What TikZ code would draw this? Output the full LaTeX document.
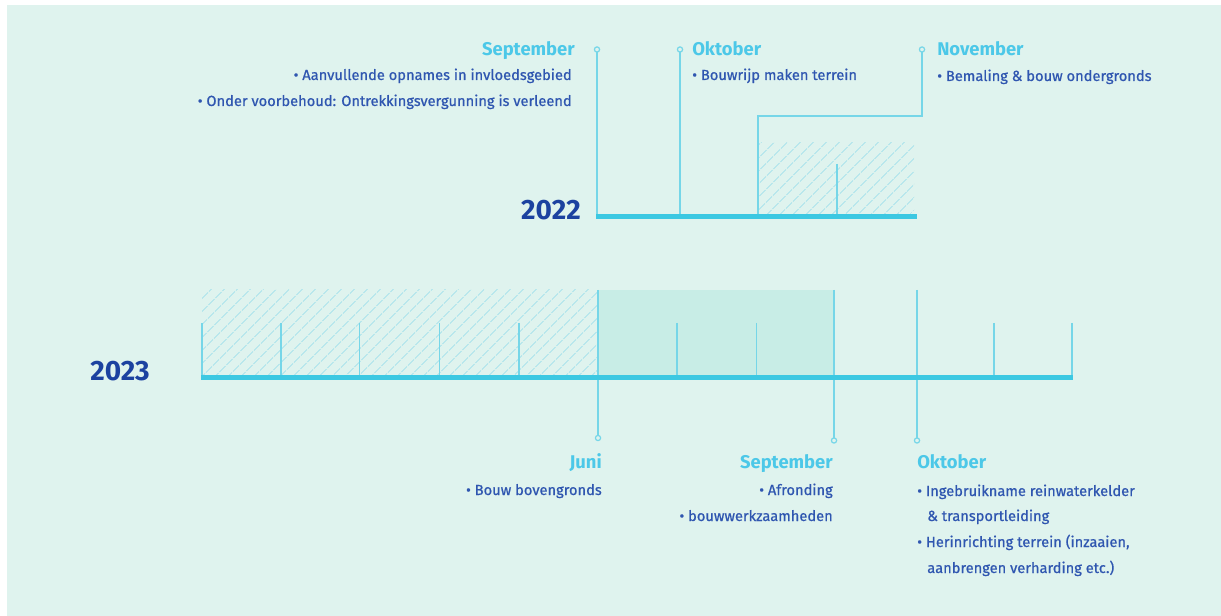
\documentclass[tikz,border=0pt]{standalone}
\usepackage{fontspec}
\setmainfont{Fira Sans}
\newfontfamily\itemfont[FakeBold=0.7]{Fira Sans}
\usepackage{tikz}
\usetikzlibrary{patterns.meta}
\definecolor{bgmint}{RGB}{223,243,238}
\definecolor{axiscyan}{RGB}{60,200,226}
\definecolor{tickcyan}{RGB}{118,214,232}
\definecolor{headcyan}{RGB}{76,200,232}
\definecolor{textblue}{RGB}{47,86,176}
\definecolor{yearblue}{RGB}{28,66,160}
\definecolor{shademint}{RGB}{200,237,230}
\definecolor{hatchcyan}{RGB}{166,226,236}

\begin{document}
\begin{tikzpicture}[x=0.75pt,y=0.75pt,yscale=-1,xscale=1,
    tick/.style={draw=tickcyan,line width=0.9pt},
    axis/.style={draw=axiscyan,line width=3.75pt},
    pin/.style={draw=tickcyan,line width=0.9pt,fill=bgmint},
    head/.style={inner sep=0pt,text=headcyan,font=\fontsize{13.8}{16}\selectfont\bfseries},
    item/.style={inner sep=0pt,text=textblue,font=\fontsize{11}{13}\selectfont\itemfont},
    year/.style={inner sep=0pt,text=yearblue,font=\fontsize{21}{25}\selectfont\bfseries},
    hatched/.style={pattern={Lines[angle=45,distance=6.9pt,line width=0.7pt]},pattern color=hatchcyan}]
        \useasboundingbox (0,0) rectangle (1221,616);
        %Shape: Rectangle [background]
        \fill[white] (0,0) rectangle (1221,616);
        \fill[bgmint] (7,5) rectangle (1221,616);

        %%% 2022
        %Shape: Rectangle [hatch]
        \path[hatched] (758,143) rectangle (914,217);
        %Straight Lines [september]
        \draw[tick] (597,52) -- (597,217) ;
        %Straight Lines [oktober]
        \draw[tick] (680,52) -- (680,217) ;
        %Straight Lines [november]
        \draw[tick] (922,52) -- (922,116) -- (758,116) -- (758,217) ;
        %Straight Lines [december]
        \draw[tick] (837,164) -- (837,217) ;
        %Straight Lines [axis]
        \draw[axis] (596,217) -- (917,217) ;
        %Shape: Circle
        \draw[pin] (597,49.5) circle (2.6) ;
        \draw[pin] (680,49.5) circle (2.6) ;
        \draw[pin] (922,49.5) circle (2.6) ;
        % Text Node
        \node[year,anchor=base east] (y22) at (581,220) {2022};
        % Text Node
        \node[head,anchor=base east] (sep22) at (575,56) {September};
        \node[item,anchor=base east] (sep22a) at (572,80) {• Aanvullende opnames in invloedsgebied};
        \node[item,anchor=base east] (sep22b) at (572,106) {• Onder voorbehoud: Ontrekkingsvergunning is verleend};
        % Text Node
        \node[head,anchor=base west] (okt22) at (692,56) {Oktober};
        \node[item,anchor=base west] (okt22a) at (692,80) {• Bouwrijp maken terrein};
        % Text Node
        \node[head,anchor=base west] (nov22) at (937,56) {November};
        \node[item,anchor=base west] (nov22a) at (937,81) {• Bemaling \& bouw ondergronds};

        %%% 2023
        %Shape: Rectangle [hatch]
        \path[hatched] (202,290) rectangle (598,377);
        %Shape: Rectangle [shade]
        \fill[shademint] (598,290) rectangle (834,377);
        %Straight Lines [months]
        \draw[tick] (202,323) -- (202,377) ;
        \draw[tick] (281,323) -- (281,377) ;
        \draw[tick] (359.5,323) -- (359.5,377) ;
        \draw[tick] (439.5,323) -- (439.5,377) ;
        \draw[tick] (519,323) -- (519,377) ;
        \draw[tick] (677,323) -- (677,377) ;
        \draw[tick] (756.5,323) -- (756.5,377) ;
        \draw[tick] (994,323) -- (994,377) ;
        \draw[tick] (1072,323) -- (1072,377) ;
        %Straight Lines [juni]
        \draw[tick] (598,290) -- (598,435.5) ;
        %Straight Lines [september]
        \draw[tick] (834,290) -- (834,438) ;
        %Straight Lines [oktober]
        \draw[tick] (917,290) -- (917,438) ;
        %Straight Lines [axis]
        \draw[axis] (201,377.5) -- (1073,377.5) ;
        %Shape: Circle
        \draw[pin] (598,438) circle (2.6) ;
        \draw[pin] (834,440.5) circle (2.6) ;
        \draw[pin] (917,440.5) circle (2.6) ;
        % Text Node
        \node[year,anchor=base east] (y23) at (150,381) {2023};
        % Text Node
        \node[head,anchor=base east] (jun23) at (602,469) {Juni};
        \node[item,anchor=base east] (jun23a) at (602,495) {• Bouw bovengronds};
        % Text Node
        \node[head,anchor=base east] (sep23) at (833,469) {September};
        \node[item,anchor=base east] (sep23a) at (833,495) {• Afronding};
        \node[item,anchor=base east] (sep23b) at (833,521) {• bouwwerkzaamheden};
        % Text Node
        \node[head,anchor=base west] (okt23) at (917,469) {Oktober};
        \node[item,anchor=base west] (okt23a) at (917,496) {• Ingebruikname reinwaterkelder};
        \node[item,anchor=base west] (okt23b) at (927,521) {\& transportleiding};
        \node[item,anchor=base west] (okt23c) at (917,547) {• Herinrichting terrein (inzaaien,};
        \node[item,anchor=base west] (okt23d) at (927,573) {aanbrengen verharding etc.)};
\end{tikzpicture}
\end{document}
